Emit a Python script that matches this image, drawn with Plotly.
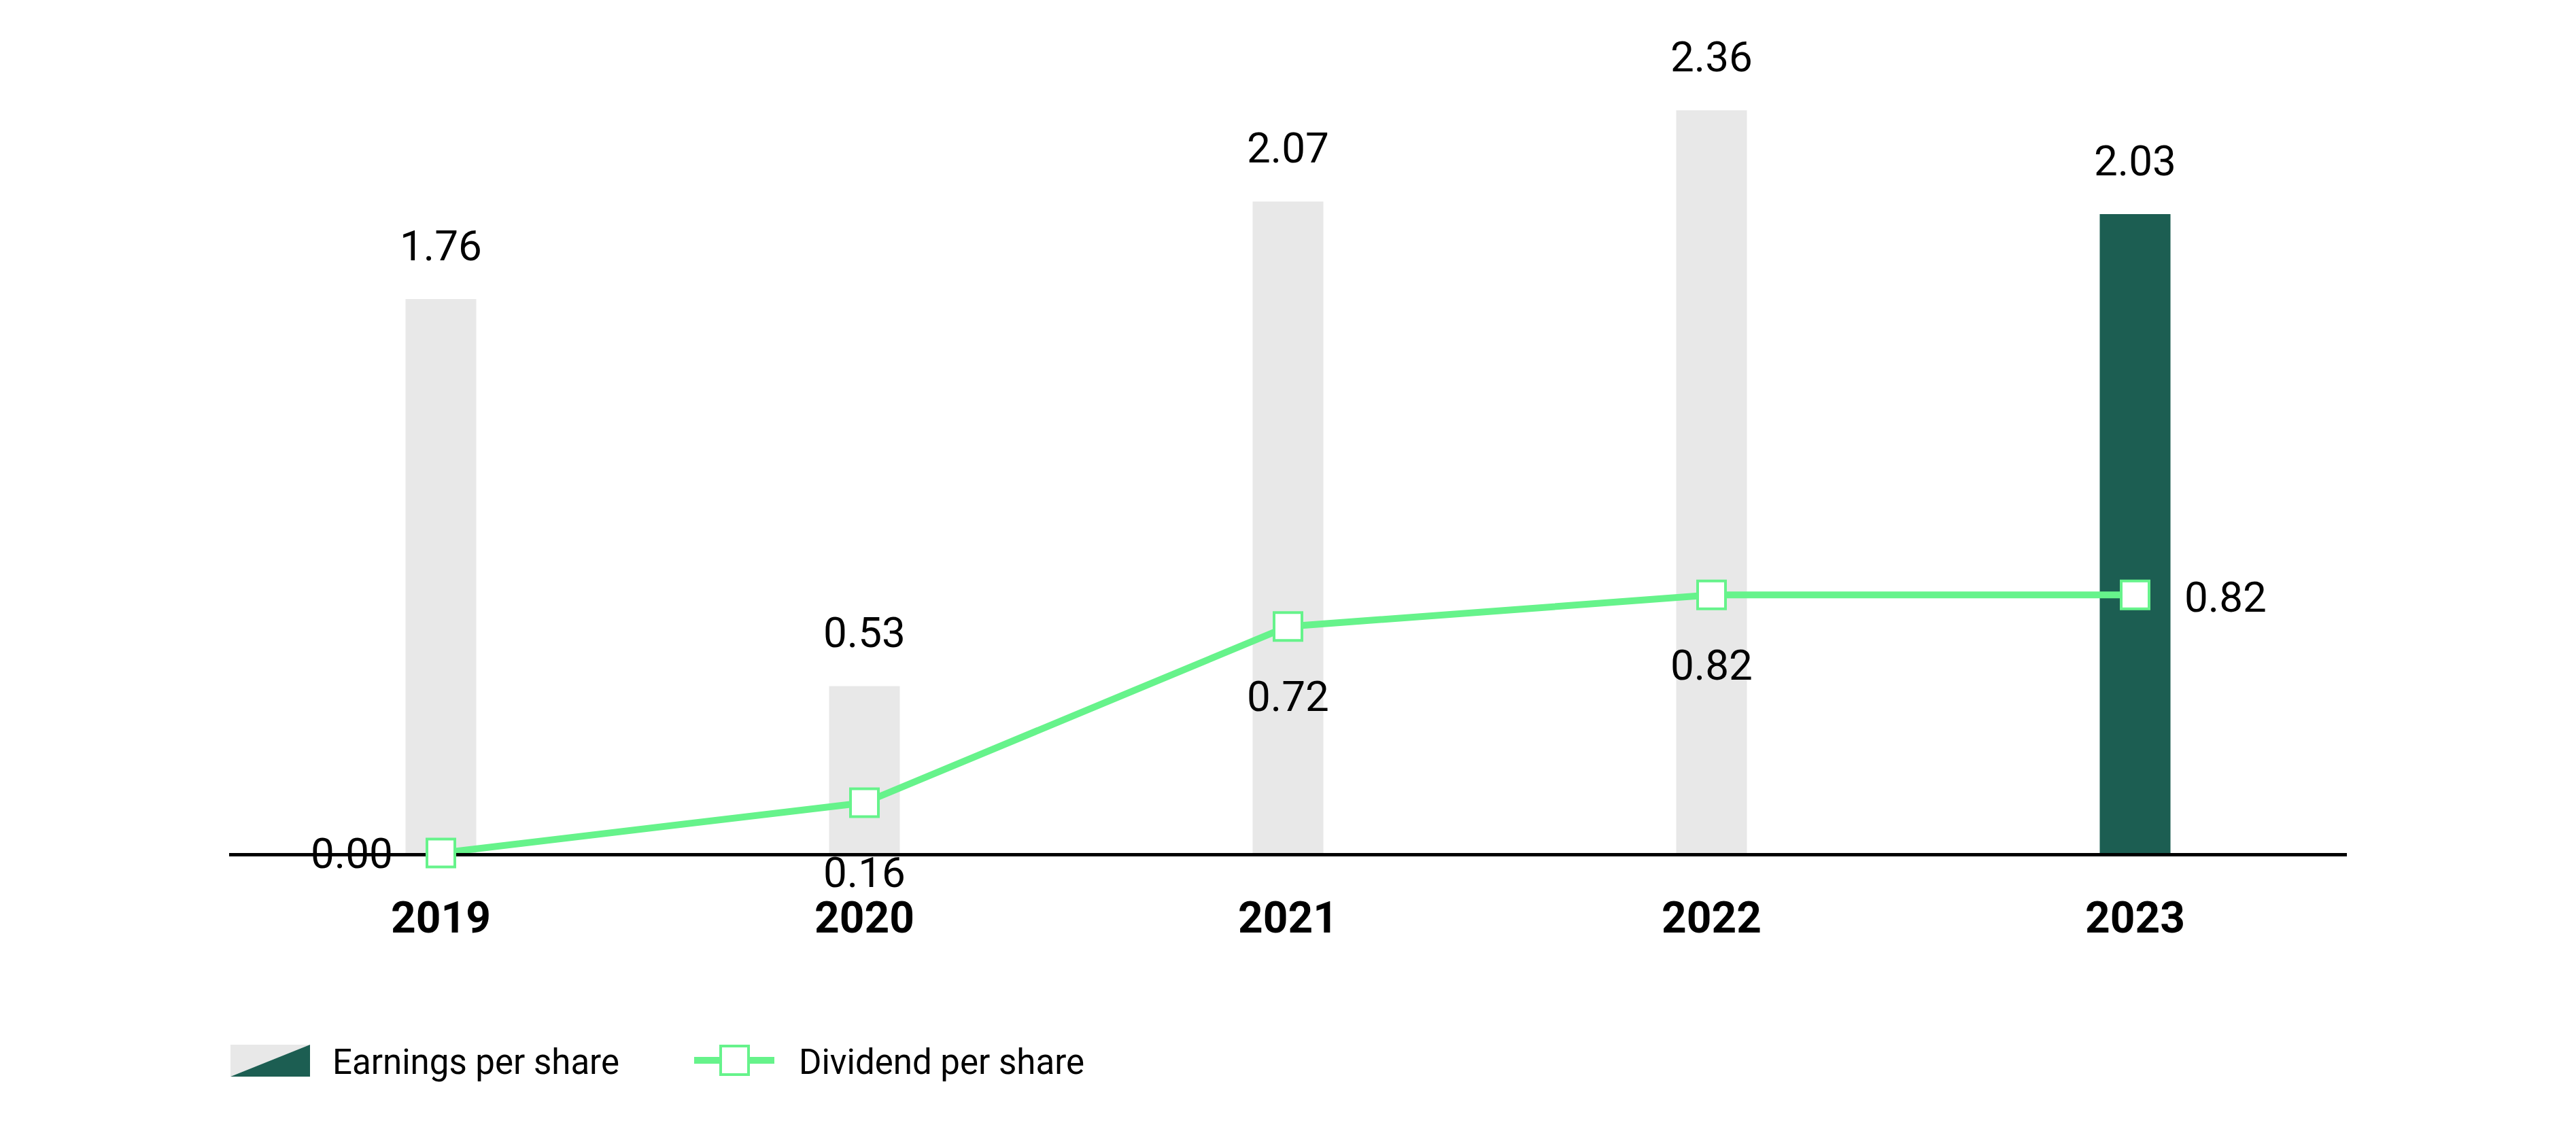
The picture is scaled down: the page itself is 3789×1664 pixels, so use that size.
import plotly.graph_objects as go

# ---- data ----
years = ["2019", "2020", "2021", "2022", "2023"]
eps = [1.76, 0.53, 2.07, 2.36, 2.03]
dps = [0.00, 0.16, 0.72, 0.82, 0.82]
legend_labels = ["Earnings per share", "Dividend per share"]

# ---- styles ----
GREY = "#E8E8E8"
DARK = "#1C5E52"
LINEG = "#66F38B"
bar_colors = [GREY, GREY, GREY, GREY, DARK]
FONT = "Roboto"

PAGE_W, PAGE_H = 3789, 1664
OFF = 8  # default body margin of the page
W, H = PAGE_W - 2 * OFF, PAGE_H - 2 * OFF
ML, MR, MT, MB = 329, 329, 32, 401
PW = W - ML - MR
PH = H - MT - MB
YMAX = PH / 463.0

fig = go.Figure()
fig.add_trace(go.Bar(
    x=years, y=eps, marker=dict(color=bar_colors, line=dict(width=0)),
    showlegend=False, hoverinfo="skip",
))
fig.add_trace(go.Scatter(
    x=years, y=dps, mode="lines+markers",
    line=dict(color=LINEG, width=10),
    marker=dict(symbol="square", size=41, color="white",
                line=dict(color=LINEG, width=4)),
    cliponaxis=False, showlegend=False, hoverinfo="skip",
))

annotations = []
# EPS labels above bars
for i, v in enumerate(eps):
    annotations.append(dict(x=i, y=v, xref="x", yref="y", text=f"{v:.2f}",
                            showarrow=False, yanchor="middle", xanchor="center",
                            yshift=79, font=dict(family=FONT, size=62, color="black")))
# DPS labels
for i, v in enumerate(dps):
    if i == 0:
        kw = dict(xanchor="center", yanchor="middle", xshift=-131, yshift=0)
    elif i == len(years) - 1:
        kw = dict(xanchor="left", yanchor="middle", xshift=70, yshift=-3)
    else:
        kw = dict(xanchor="center", yanchor="middle", xshift=0, yshift=-103)
    annotations.append(dict(x=i, y=v, xref="x", yref="y", text=f"{v:.2f}",
                            showarrow=False, font=dict(family=FONT, size=62, color="black"),
                            **kw))


def px_x(p):
    return (p - OFF - ML) / PW


def px_y(p):
    return (H - MB - (p - OFF)) / PH


shapes = []
# legend icon 1: split rectangle
x0, x1 = px_x(339), px_x(456)
yt, yb = px_y(1537), px_y(1584)
shapes.append(dict(type="path", xref="paper", yref="paper",
                   path=f"M {x0},{yt} L {x1},{yt} L {x0},{yb} Z",
                   fillcolor=GREY, line=dict(width=0)))
shapes.append(dict(type="path", xref="paper", yref="paper",
                   path=f"M {x1},{yt} L {x1},{yb} L {x0},{yb} Z",
                   fillcolor=DARK, line=dict(width=0)))
# legend icon 2: line + square marker
ly = px_y(1560)
shapes.append(dict(type="line", xref="paper", yref="paper",
                   x0=px_x(1021), x1=px_x(1139), y0=ly, y1=ly,
                   line=dict(color=LINEG, width=10)))
shapes.append(dict(type="rect", xref="paper", yref="paper",
                   x0=px_x(1060), x1=px_x(1101), y0=px_y(1539), y1=px_y(1581),
                   fillcolor="white", line=dict(color=LINEG, width=4)))

annotations.append(dict(x=px_x(487), y=px_y(1562), xref="paper", yref="paper",
                        text=legend_labels[0], showarrow=False, xanchor="left",
                        yanchor="middle", font=dict(family=FONT, size=51, color="black")))
annotations.append(dict(x=px_x(1173), y=px_y(1562), xref="paper", yref="paper",
                        text=legend_labels[1], showarrow=False, xanchor="left",
                        yanchor="middle", font=dict(family=FONT, size=51, color="black")))

fig.update_layout(
    width=W, height=H,
    margin=dict(l=ML, r=MR, t=MT, b=MB, autoexpand=False),
    paper_bgcolor="white", plot_bgcolor="white",
    bargap=0.833,
    annotations=annotations, shapes=shapes,
    showlegend=False,
)
fig.update_xaxes(type="category", range=[-0.5, 4.5], showline=True, linecolor="black",
                 linewidth=5, ticks="", showgrid=False, zeroline=False,
                 layer="below traces", ticklabelstandoff=35,
                 tickfont=dict(family=FONT, size=64, color="black", weight="bold"))
fig.update_yaxes(range=[0, YMAX], visible=False, showgrid=False, zeroline=False)

fig.write_html("out.html")
